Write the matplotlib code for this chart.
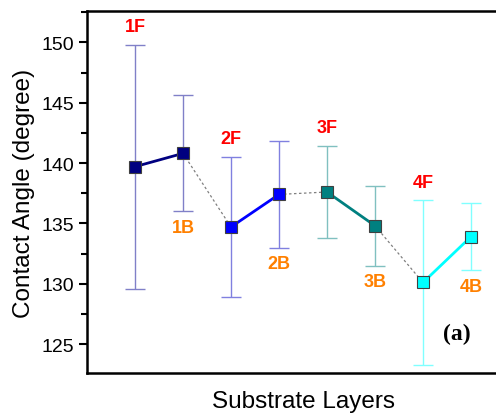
import numpy as np
import matplotlib
matplotlib.use("Agg")
import matplotlib.pyplot as plt
from matplotlib.ticker import MultipleLocator

plt.rcParams['font.family'] = ['Liberation Sans', 'DejaVu Sans']

# data
labels = ["1F", "1B", "2F", "2B", "3F", "3B", "4F", "4B"]
angle = [139.7, 140.8, 134.7, 137.4, 137.6, 134.8, 130.1, 133.9]
err = [10.1, 4.8, 5.8, 4.4, 3.8, 3.3, 6.8, 2.8]
pair_colors = ["#000080", "#0000FF", "#008080", "#00FFFF"]
err_colors = ["#8080C8", "#8080E0", "#80C0C0", "#80FFFF"]

x = np.arange(1, len(labels) + 1)

fig = plt.figure(figsize=(4.96, 4.14), dpi=100)
ax = fig.add_axes([87 / 496, 40 / 414, 432 / 496, 362 / 414])

# dotted links between pairs
for i in [1, 3, 5]:
    ax.plot(x[i:i + 2], angle[i:i + 2], ls=(0, (2, 2)), color="gray", lw=0.9, zorder=1)

for p in range(4):
    sl = slice(2 * p, 2 * p + 2)
    ax.errorbar(x[sl], angle[sl], yerr=err[sl], fmt="none", ecolor=err_colors[p],
                elinewidth=1.0, capsize=7, capthick=1.0, zorder=2)
    ax.plot(x[sl], angle[sl], color=pair_colors[p], lw=2, marker="s", ms=9,
            mfc=pair_colors[p], mec="#404040", mew=0.8, zorder=3)

for i, lab in enumerate(labels):
    if lab.endswith("F"):
        ax.text(x[i], angle[i] + err[i] + 0.8, lab, color="#FF0000", fontsize=13,
                fontweight="bold", ha="center", va="bottom")
    else:
        ax.text(x[i], angle[i] - err[i] - 0.6, lab, color="#FF8000", fontsize=13,
                fontweight="bold", ha="center", va="top")

ax.text(0.856, 0.108, "(a)", transform=ax.transAxes, fontsize=17, fontweight="bold",
        family=["Liberation Serif", "DejaVu Serif"], ha="center", va="center")

ax.set_xlim(0, 9)
ax.set_ylim(122.6, 152.6)
ax.yaxis.set_major_locator(MultipleLocator(5))
ax.yaxis.set_minor_locator(MultipleLocator(2.5))
ax.set_xticks([])
ax.tick_params(axis="y", which="major", direction="out", length=6, width=1.5, labelsize=14)
ax.tick_params(axis="y", which="minor", direction="out", length=4, width=1.5)
for s in ax.spines.values():
    s.set_linewidth(1.8)

ax.set_xlabel("Substrate Layers", fontsize=17.5, labelpad=12)
ax.set_ylabel("Contact Angle (degree)", fontsize=17.5, labelpad=4)

fig.savefig("out.png", dpi=100)
